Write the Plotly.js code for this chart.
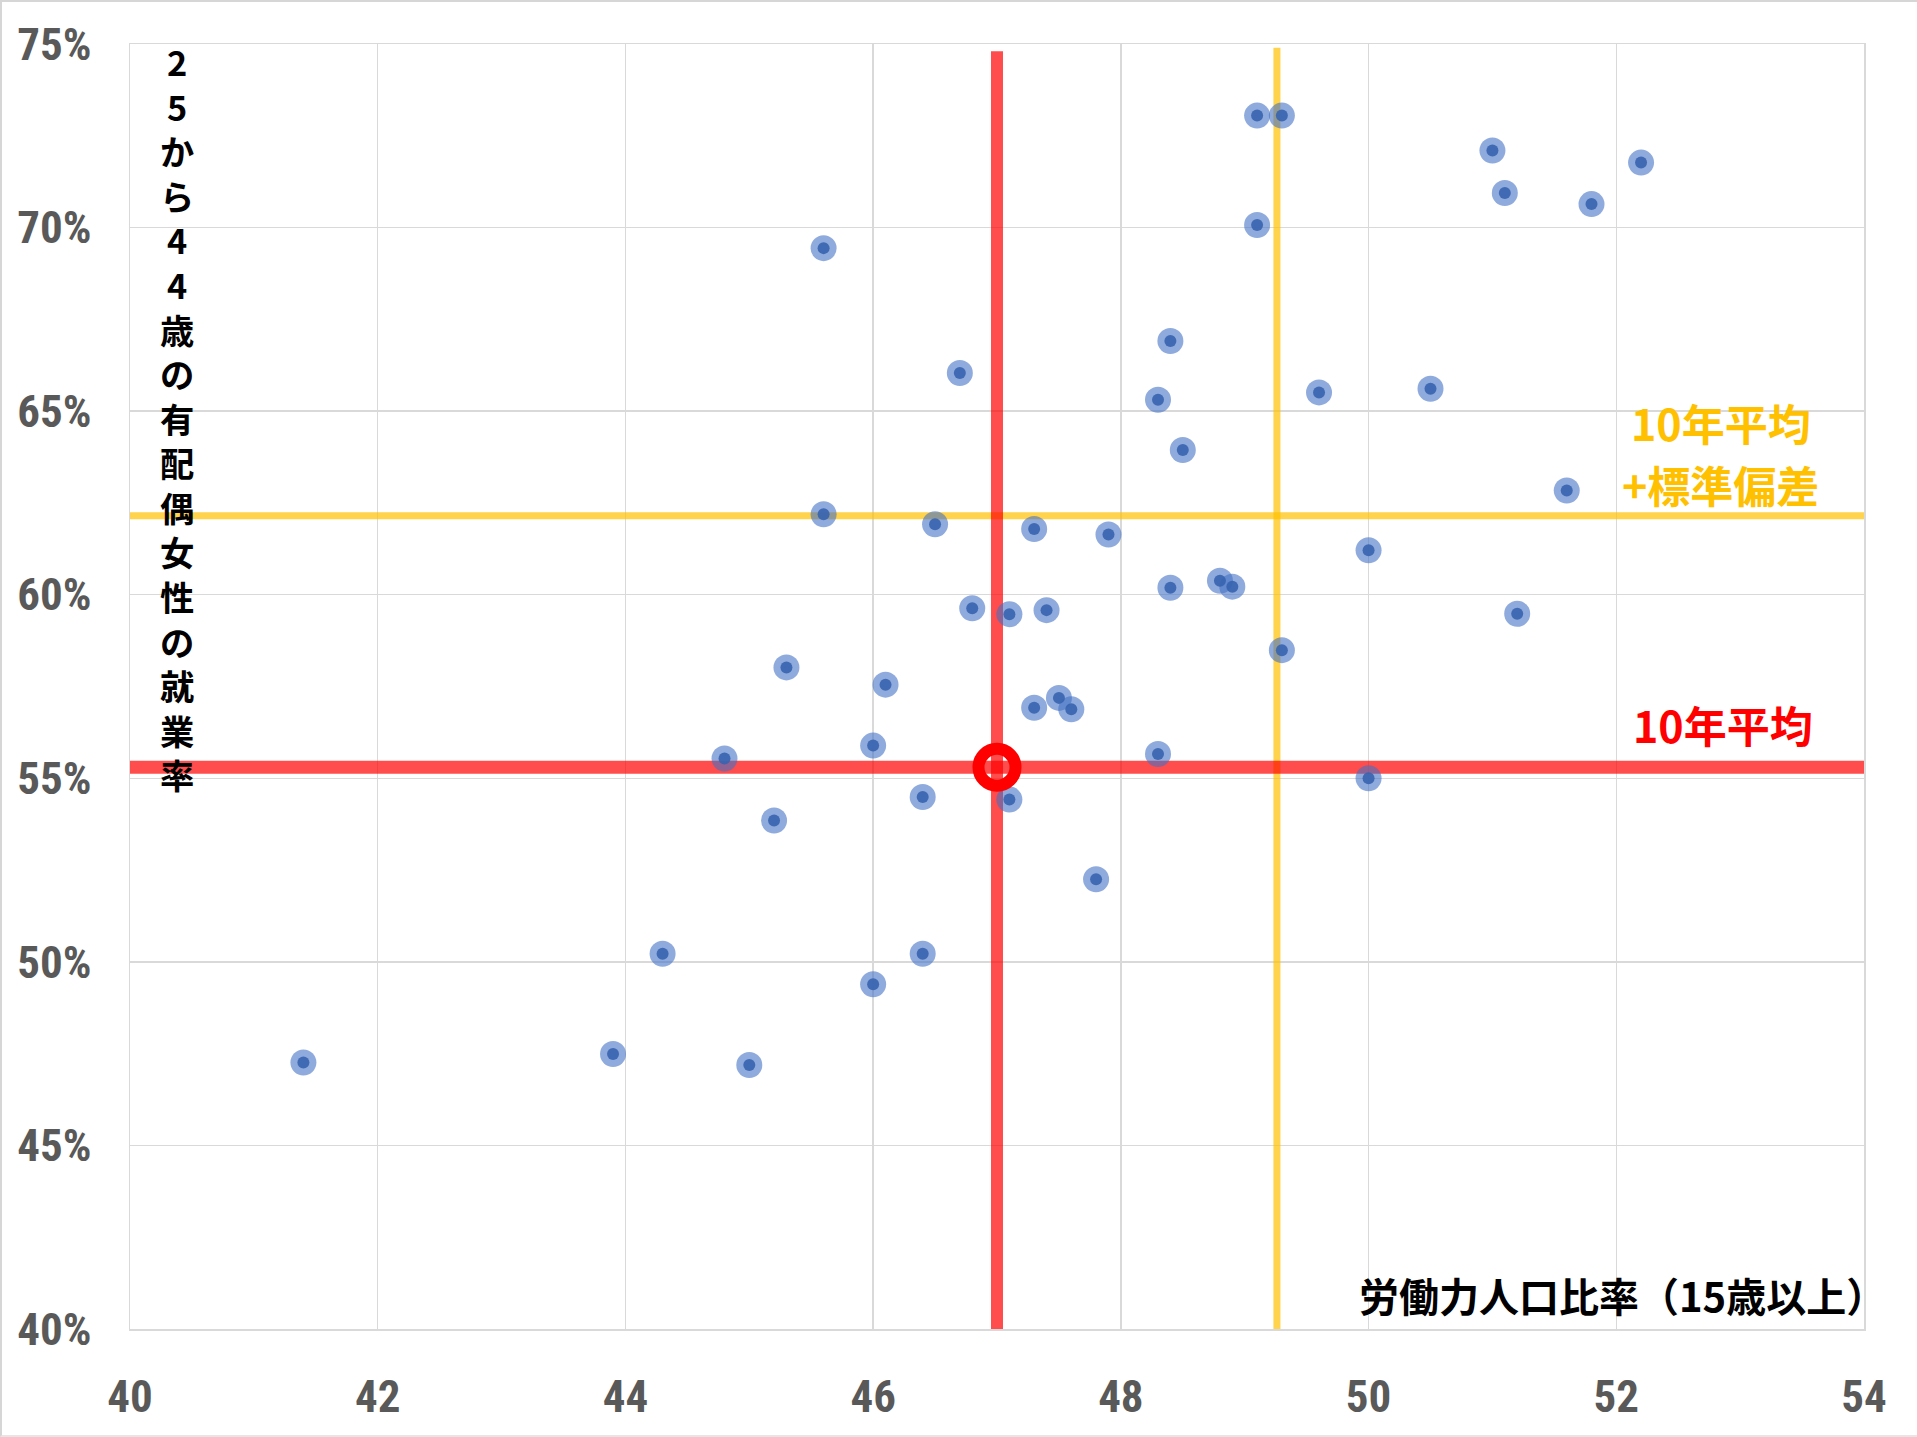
<!DOCTYPE html>
<html>
<head>
<meta charset="utf-8">
<script src="https://cdn.plot.ly/plotly-3.0.1.min.js"></script>
<style>
  html, body { margin: 0; padding: 0; background: #fff; }
  #wrap { position: relative; width: 1917px; height: 1437px; }
  #chart { width: 1917px; height: 1437px; }
  #frame { position: absolute; left: 0; top: 0; width: 1917px; height: 1437px;
           box-sizing: border-box; border-top: 2px solid #d6d6d6; border-left: 2px solid #d6d6d6;
           border-bottom: 2px solid #e6e6e6; pointer-events: none; }
</style>
</head>
<body>
<div id="wrap"><div id="chart"></div><div id="frame"></div></div>
<script>
// 労働力人口比率（15歳以上） per prefecture
const laborRate = [41.4, 43.9, 45.0, 44.3, 46.0, 46.4, 47.8, 45.2, 46.4, 47.1, 44.8, 46.0, 48.3, 50.0,
  45.3, 46.1, 47.3, 47.5, 47.6, 49.3, 46.8, 47.1, 47.4, 48.4, 48.8, 48.9, 51.2, 50.0,
  45.6, 46.5, 47.3, 47.9, 51.6, 48.5, 48.3, 49.6, 50.5, 46.7, 48.4, 45.6, 49.1, 51.1,
  51.8, 52.2, 51.0, 49.1, 49.3];
// 25から44歳の有配偶女性の就業率 (%)
const employRate = [47.26, 47.49, 47.19, 50.22, 49.39, 50.22, 52.25, 53.85, 54.49, 54.42, 55.54, 55.89, 55.66, 55.0,
  58.02, 57.55, 56.92, 57.19, 56.88, 58.49, 59.63, 59.47, 59.58, 60.19, 60.38, 60.22, 59.48, 61.21,
  62.19, 61.92, 61.79, 61.64, 62.84, 63.94, 65.31, 65.51, 65.61, 66.04, 66.91, 69.44, 70.07, 70.94,
  70.64, 71.77, 72.10, 73.05, 73.05];

// 10年平均 and 10年平均+標準偏差
const meanPoint = [47.0, 55.3];          // [x, y]
const meanPlusSD = [49.26, 62.15];       // [x, y]
const xRange = [40, 54];
const yRange = [40, 75];
const vRedSpan = [40, 74.8];
const vOrangeSpan = [40, 74.9];

const xTickVals = [40, 42, 44, 46, 48, 50, 52, 54];
const yTickVals = [40, 45, 50, 55, 60, 65, 70, 75];
const yTitleChars = ['2','5','か','ら','4','4','歳','の','有','配','偶','女','性','の','就','業','率'];
const xTitle = '労働力人口比率（15歳以上）';
const labelMean = '10年平均';
const labelSD1 = '10年平均';
const labelSD2 = '+標準偏差';

const RED = 'rgba(255,0,0,0.70)';
const ORANGE = 'rgba(255,192,0,0.70)';
const CJK = '"Noto Sans CJK JP", "Noto Sans CJK SC", sans-serif';
const TICKFONT = '"Roboto Condensed", Roboto, "Liberation Sans", sans-serif';

const traces = [
  { x: [meanPlusSD[0], meanPlusSD[0]], y: vOrangeSpan, mode: 'lines', line: {color: ORANGE, width: 7}, hoverinfo: 'skip' },
  { x: xRange, y: [meanPlusSD[1], meanPlusSD[1]], mode: 'lines', line: {color: ORANGE, width: 7}, hoverinfo: 'skip' },
  { x: [meanPoint[0], meanPoint[0]], y: vRedSpan, mode: 'lines', line: {color: RED, width: 12}, hoverinfo: 'skip' },
  { x: xRange, y: [meanPoint[1], meanPoint[1]], mode: 'lines', line: {color: RED, width: 13}, hoverinfo: 'skip' },
  { x: laborRate, y: employRate, mode: 'markers', marker: {size: 26, color: 'rgba(68,114,196,0.60)', line: {width: 0}} },
  { x: laborRate, y: employRate, mode: 'markers', marker: {size: 12, color: 'rgba(55,100,175,0.90)', line: {width: 0}} },
  { x: [meanPoint[0]], y: [meanPoint[1]], mode: 'markers', cliponaxis: false,
    marker: {symbol: 'circle-open', size: 37, color: '#ff0000', line: {width: 12, color: '#ff0000'}} }
];

const annotations = [
  { xref: 'paper', yref: 'paper', x: 0.0272, y: 0.7093, xanchor: 'center', yanchor: 'middle',
    text: yTitleChars.join('<br>'), showarrow: false, align: 'center',
    font: {family: CJK, size: 34.3, color: '#000', weight: 'bold'} },
  { xref: 'paper', yref: 'paper', x: 1.0137, y: 0.0265, xanchor: 'right', yanchor: 'middle',
    text: xTitle, showarrow: false, font: {family: CJK, size: 40, color: '#000', weight: 'bold'} },
  { xref: 'paper', yref: 'paper', x: 0.9175, y: 0.7058, xanchor: 'center', yanchor: 'middle',
    text: labelSD1, showarrow: false, font: {family: CJK, size: 43, color: '#FFC000', weight: 'bold'} },
  { xref: 'paper', yref: 'paper', x: 0.9175, y: 0.6576, xanchor: 'center', yanchor: 'middle',
    text: labelSD2, showarrow: false, font: {family: CJK, size: 43, color: '#FFC000', weight: 'bold'} },
  { xref: 'paper', yref: 'paper', x: 0.9187, y: 0.4708, xanchor: 'center', yanchor: 'middle',
    text: labelMean, showarrow: false, font: {family: CJK, size: 43, color: '#FF0000', weight: 'bold'} }
];

const layout = {
  width: 1917, height: 1437,
  margin: {l: 130, r: 53, t: 44, b: 108, pad: 0},
  paper_bgcolor: '#ffffff', plot_bgcolor: '#ffffff',
  showlegend: false,
  xaxis: {
    range: xRange, tickvals: xTickVals, ticktext: xTickVals.map(String),
    showgrid: true, gridcolor: '#d9d9d9', gridwidth: 1.3,
    zeroline: false, showline: true, mirror: true, linecolor: '#d9d9d9', linewidth: 1.5,
    ticks: '', ticklabelstandoff: 27,
    tickfont: {family: TICKFONT, size: 45, color: '#595959', weight: 'bold'}
  },
  yaxis: {
    range: yRange, tickvals: yTickVals, ticktext: yTickVals.map(v => v + '%'),
    showgrid: true, gridcolor: '#d9d9d9', gridwidth: 1.3,
    zeroline: false, showline: true, mirror: true, linecolor: '#d9d9d9', linewidth: 1.5,
    ticks: '', ticklabelstandoff: 28,
    tickfont: {family: TICKFONT, size: 45, color: '#595959', weight: 'bold'}
  },
  annotations: annotations
};

Plotly.newPlot('chart', traces, layout, {displayModeBar: false, staticPlot: true});
</script>
</body>
</html>
